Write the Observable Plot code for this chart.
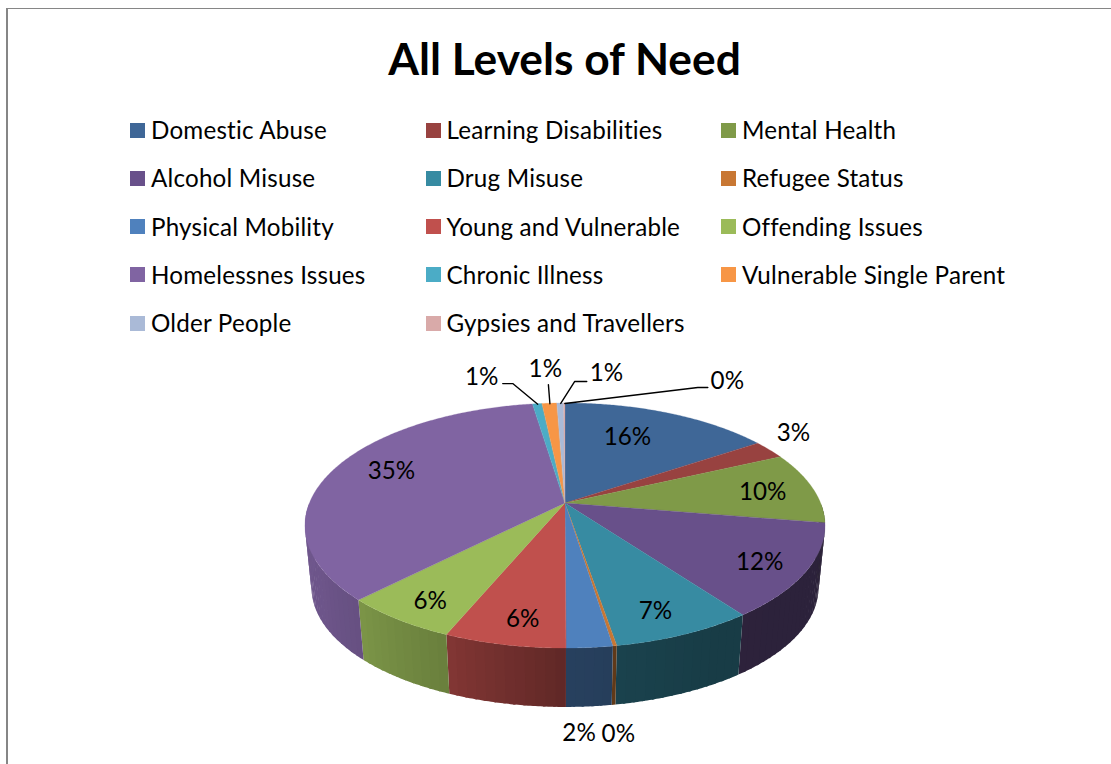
<!DOCTYPE html>
<html><head><meta charset="utf-8">
<script src="https://cdn.jsdelivr.net/npm/d3@7"></script>
<script src="https://cdn.jsdelivr.net/npm/@observablehq/plot@0.6"></script>
<style>
html,body{margin:0;padding:0;background:#fff;width:1111px;height:764px;overflow:hidden}
#page{position:relative;width:1111px;height:764px;font-family:Lato,"Noto Sans",sans-serif;color:#000;font-variant-ligatures:none}
#frame{position:absolute;left:6px;top:8px;right:-4px;bottom:-4px;border:solid #868686;border-width:1.5px 0 0 2px}
#title{position:absolute;left:0;top:32px;width:1129px;text-align:center;font-weight:700;font-size:44.3px;line-height:52px}
.key{position:absolute;font-size:24.2px;line-height:28px;white-space:nowrap;letter-spacing:.2px}
.sw{position:absolute;width:15px;height:15px}
#chart{position:absolute;left:0;top:350px}
#chart text{font-variant-ligatures:none}
</style></head><body><div id="page"><div id="frame"></div><div id="title">All Levels of Need</div><div id="chart"></div></div>
<script>
const categories = ["Domestic Abuse","Learning Disabilities","Mental Health","Alcohol Misuse","Drug Misuse","Refugee Status","Physical Mobility","Young and Vulnerable","Offending Issues","Homelessnes Issues","Chronic Illness","Vulnerable Single Parent","Older People","Gypsies and Travellers"];
const shares = [15.6,2.5,9.5,12.3,7.45,0.2,2.4,6.35,6.1,35.2,0.7,1.1,0.5,0.1];
const colours = ["#3F6797","#984240","#7F9A48","#68508A","#378BA2","#C97732","#4F81BD","#C0504D","#9BBB59","#8064A2","#4BACC6","#F79646","#AABAD7","#D9AAA9"];
const legendColours = ["#3F6797","#984240","#7F9A48","#68508A","#378BA2","#C87733","#4F81BD","#C0504D","#9BBB59","#8064A2","#4BACC6","#F79646","#AABAD7","#D9AAA9"];
// label position relative to the slice's rim midpoint
const labelShift = [[-41.6,24],[23.5,-16.8],[-50,4.6],[-46.8,-9.6],[-30,-23.7],[3,87.6],[-11,85.7],[18,-25.9],[32,-19],[56,2.6],[-56,-26.6],[-4.6,-34.2],[45.6,-30],[162.5,-22]];
// leader elbows relative to the slice's rim midpoint
const leaderBends = {10:[[-25,-20.6],[-35,-20.6]],11:[[-1.5,-19]],12:[[14,-22],[26,-22]],13:[[133,-16],[143,-16]]};

// pie perspective
const cx=565, cy=503, k=0.1837, A=255.6, B=118.4, drop=62.5, shrink=0.975;
const rad=d=>d*Math.PI/180;
const top3=(deg)=>{const w=Math.cos(rad(deg)),u=Math.sin(rad(deg)),den=1+k*w;return [cx+A*u/den, cy-B*w/den];};
const bot3=(deg)=>{const [x,y]=top3(deg);return [cx+(x-cx)*shrink, cy+drop+(y-cy)*shrink];};
const wallShade=d3.scaleLinear().domain([90,150,180,203,225,240,270]).range([.42,.43,.5,.68,.8,.85,.87]).clamp(true);

let acc=0;
const slices=shares.map((v,i)=>{const a0=acc*3.6;acc+=v;return {i,a0,a1:acc*3.6,mid:(a0+acc*3.6)/2};});
const arcAngles=(a0,a1,step)=>{const n=Math.max(1,Math.ceil((a1-a0)/step));return d3.range(n+1).map(j=>a0+(a1-a0)*j/n);};

const topRows=slices.flatMap(s=>arcAngles(s.a0,s.a1,.5).map(t=>{const [x,y]=top3(t);return {slice:s.i,x,y};}));
// strips overlap the next one slightly so no seams show between them
const wallRows=slices.flatMap(s=>{
  const lo=Math.max(s.a0,90),hi=Math.min(s.a1,270);
  if(hi<=lo) return [];
  const ts=arcAngles(lo,hi,2);
  return d3.pairs(ts).flatMap(([t0,t1],j)=>{
    const col=d3.color(colours[s.i]);const f=wallShade((t0+t1)/2);
    const c=d3.rgb(col.r*f,col.g*f,col.b*f).formatHex();
    const end=Math.min(t1+.5,hi);
    return arcAngles(t0,end,.5).map(t=>{const [x1,y1]=top3(t),[x2,y2]=bot3(t);return {strip:s.i+"-"+j,c,x1,y1,x2,y2};});
  });
});
const labels=slices.map(s=>{const [x,y]=top3(s.mid);return {t:Math.round(shares[s.i])+"%",x:x+labelShift[s.i][0],y:y+labelShift[s.i][1]};});
const leaders=Object.entries(leaderBends).flatMap(([i,b])=>{const [x,y]=top3(slices[i].mid);return [[0,0],...b].map(([dx,dy])=>({i,x:x+dx,y:y+dy}));});

const chart=Plot.plot({
  width:1111,height:414,margin:0,
  x:{domain:[0,1111],range:[0,1111],axis:null},
  y:{domain:[350,764],range:[0,414],axis:null},
  style:{background:"transparent",overflow:"visible"},
  marks:[
    Plot.area(wallRows,{x1:"x1",y1:"y1",x2:"x2",y2:"y2",z:"strip",fill:"c"}),
    Plot.area(topRows,{x1:()=>cx,y1:()=>cy,x2:"x",y2:"y",z:"slice",fill:d=>colours[d.slice],stroke:d=>colours[d.slice],strokeWidth:.25}),
    Plot.line(leaders,{x:"x",y:"y",z:"i",stroke:"#000",strokeWidth:1.4}),
    Plot.text(labels,{x:"x",y:"y",text:"t",fontSize:24.2,fontFamily:"Lato,'Noto Sans',sans-serif",fill:"#000",textAnchor:"middle"})
  ]
});
document.getElementById("chart").appendChild(chart);

const page=document.getElementById("page");
const colX=[130,425.5,721], rowY=[130,178.2,226.5,274.8,323];
categories.forEach((c,i)=>{
  const col=i%3,row=Math.floor(i/3);
  const sw=document.createElement("div");sw.className="sw";
  sw.style.left=colX[col]+"px";sw.style.top=(rowY[row]-7.5)+"px";sw.style.background=legendColours[i];
  const t=document.createElement("div");t.className="key";t.textContent=c;
  t.style.left=(colX[col]+21)+"px";t.style.top=(rowY[row]-14)+"px";
  page.append(sw,t);
});
</script></body></html>
